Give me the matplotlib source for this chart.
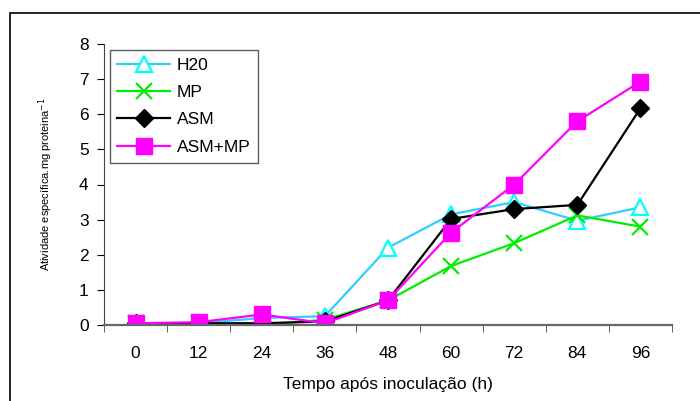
import matplotlib.pyplot as plt
import matplotlib.patches as mpatches

plt.rcParams['font.family'] = ['Liberation Sans', 'DejaVu Sans']

# horas apos inoculacao
horas = ['0', '12', '24', '36', '48', '60', '72', '84', '96']
h20 = [0.05, 0.05, 0.2, 0.25, 2.2, 3.15, 3.5, 2.97, 3.35]
mp = [0.05, 0.05, 0.0, 0.15, 0.7, 1.68, 2.33, 3.12, 2.8]
asm = [0.05, 0.05, 0.05, 0.1, 0.7, 3.02, 3.3, 3.42, 6.17]
asm_mp = [0.05, 0.08, 0.3, 0.05, 0.7, 2.63, 4.0, 5.8, 6.93]

fig = plt.figure(figsize=(7, 4.01), dpi=100)
# moldura externa
fig.patches.append(mpatches.Rectangle((10 / 700, -0.1), 1.2, (401 - 13) / 401 + 0.1,
                                      transform=fig.transFigure, fill=False,
                                      edgecolor='black', linewidth=1.2))
ax = fig.add_axes([104 / 700, 76 / 401, 568 / 700, 281 / 401])

x = list(range(len(horas)))
ax.plot(x, h20, color='#33CCFF', lw=1.6, marker='^', ms=11, mfc='white',
        mec='#00FFFF', mew=1.6, label='H20')
ax.plot(x, mp, color='#00EE00', lw=1.6, marker='x', ms=11, mec='#00EE00',
        mew=1.6, label='MP')
ax.plot(x, asm, color='black', lw=1.6, marker='D', ms=9, label='ASM')
ax.plot(x, asm_mp, color='#FF00FF', lw=1.6, marker='s', ms=12, label='ASM+MP')

ax.set_xlim(-0.5, len(horas) - 0.5)
ax.set_ylim(0, 8)
ax.set_xticks(x)
ax.set_xticklabels(horas)
ax.set_xticks([i - 0.5 for i in range(len(horas) + 1)], minor=True)
ax.tick_params(axis='x', which='major', length=0, pad=15, labelsize=12.5)
ax.tick_params(axis='x', which='minor', length=5, direction='out', color='#444444')
ax.tick_params(axis='y', length=5, direction='out', labelsize=12.5, pad=6)
ax.set_yticks(range(9))

for s in ['top', 'right']:
    ax.spines[s].set_visible(False)
ax.spines['bottom'].set_color('#666666')
ax.spines['bottom'].set_linewidth(1.6)
ax.spines['left'].set_color('#444444')

ax.set_xlabel('Tempo após inoculação (h)', fontsize=12.5, labelpad=12)
ax.set_ylabel('Atividade específica.mg proteina$^{-1}$', fontsize=8, labelpad=17)

leg = ax.legend(loc='upper left', bbox_to_anchor=(0.01, 0.979), fontsize=12.5,
                frameon=True, fancybox=False, edgecolor='#333333',
                handlelength=3.0, handletextpad=0.4, labelspacing=0.7,
                borderpad=0.45, borderaxespad=0)
leg.get_frame().set_linewidth(1.0)

fig.savefig('out.png', dpi=100)
